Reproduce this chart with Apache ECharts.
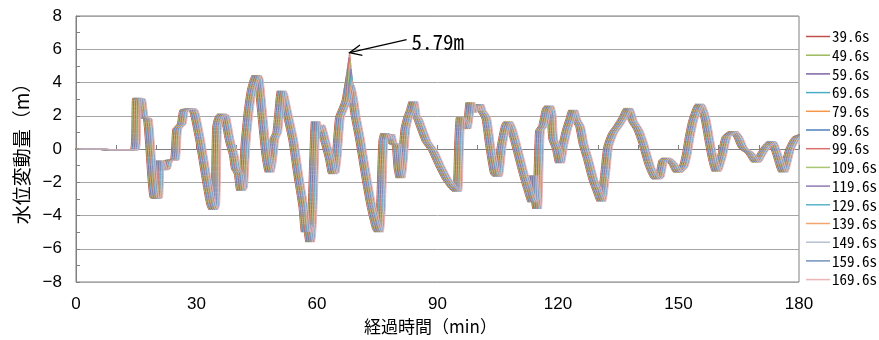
<!DOCTYPE html>
<html>
<head>
<meta charset="utf-8">
<script src="https://cdn.jsdelivr.net/npm/echarts@6/dist/echarts.min.js"></script>
<style>
  html, body { margin: 0; padding: 0; background: #fff; }
  #chart { width: 879px; height: 340px; }
</style>
</head>
<body>
<div id="chart"></div>
<script>
// 凡例（計算ケース）
const runLabels = ['39.6s', '49.6s', '59.6s', '69.6s', '79.6s', '89.6s', '99.6s',
  '109.6s', '119.6s', '129.6s', '139.6s', '149.6s', '159.6s', '169.6s']

// 波形（帯の中心を読み取り） 経過時間(min)
const timeMin = [0, 7.0, 7.3, 14.6, 15.2, 16.2, 16.9, 17.9, 19.6, 20.4, 20.9, 21.6, 22.4, 23.0,
  24.6, 25.2, 26.3, 27.0, 29.0, 29.6, 31.0, 32.5, 33.6, 34.2, 34.7, 35.1, 35.6, 36.3, 37.1,
  38.3, 39.3, 39.8, 40.5, 41.1, 41.6, 42.2, 43.0, 43.8, 45.0, 45.5, 46.4, 47.4, 48.2, 48.8,
  49.4, 50.1, 50.6, 51.2, 51.6, 52.4, 54.1, 55.3, 56.6, 57.2, 57.6, 58.3, 58.8, 59.3, 59.7,
  60.2, 60.8, 62.0, 63.2, 64.0, 64.4, 64.9, 65.7, 66.5, 67.3, 68.2, 69.0, 69.6, 70.7, 72.4,
  73.6, 74.9, 75.4, 75.9, 76.5, 77.0, 77.6, 78.2, 79.0, 79.7, 80.3, 80.8, 81.4, 82.0, 82.8,
  83.3, 84.0, 84.6, 85.2, 85.8, 87.3, 88.9, 90.6, 92.3, 93.9, 94.9, 95.4, 95.8, 96.4, 97.2,
  97.8, 98.2, 98.7, 99.3, 99.8, 100.4, 101.0, 101.6, 102.2, 103.1, 104.3, 105.0, 106.0,
  107.0, 107.6, 108.5, 109.7, 111.4, 112.6, 113.6, 114.0, 114.3, 114.8, 115.5, 116.3, 117.2,
  117.8, 118.4, 118.8, 119.7, 120.5, 121.3, 122.2, 123.0, 123.8, 124.6, 125.5, 126.3, 127.5,
  128.8, 130.0, 130.8, 131.7, 132.5, 133.7, 135.0, 136.3, 137.5, 138.7, 140.0, 141.2, 142.9,
  144.5, 145.3, 146.2, 147.0, 148.7, 149.9, 151.2, 152.0, 152.8, 153.7, 155.3, 156.6, 157.8,
  158.7, 159.5, 160.8, 162.0, 163.7, 164.9, 166.1, 167.8, 169.4, 170.7, 171.9, 173.2, 174.4,
  176.1, 177.8, 179.4, 181.5]

// 水位変動量(m)
const levelM = [0, 0, -0.05, -0.05, 3.05, 3.0, 1.9, 1.8, -2.95, -2.95, -0.7, -1.25, -1.2, -0.7,
  -0.65, 1.2, 1.5, 2.35, 2.4, 2.1, 0.4, -1.8, -3.3, -3.65, -3.3, 1.3, 1.85, 2.1, 2.0,
  0.5, -0.4, -1.2, -1.5, -2.5, -2.3, 0.3, 2.3, 3.6, 4.45, 4.2, 2.0, -0.4, -1.4, -0.7,
  0.6, 1.0, 2.2, 3.5, 3.3, 2.4, 0.5, -1.5, -3.5, -5.0, -4.6, -5.6, -4.2, -0.5, 1.65,
  1.1, 1.45, 0.5, -0.6, -1.5, -1.4, -0.5, 1.9, 2.4, 2.9, 4.0, 3.0, 2.0, 0.6, -1.9,
  -3.5, -4.8, -5.0, -3.6, 0.5, 0.95, 0.6, 0.9, 0.3, 0.3, -1.2, -1.75, -0.6, 1.2, 2.0,
  2.3, 2.85, 2.0, 1.8, 1.4, 0.45, -0.1, -1.0, -1.8, -2.35, -2.55, 0.5, 1.9, 1.7, 1.2,
  2.0, 2.8, 2.2, 2.6, 2.3, 2.7, 2.3, 2.1, 1.8, 0.2, -1.5, -1.65, 0.2,
  1.4, 1.65, 1.2, 0.15, -1.45, -2.45, -3.2, -1.6, -2.8, -3.6, 1.1, 1.4, 2.4,
  2.6, 2.1, 0.6, 0.0, -0.85, 0.2, 1.15, 1.75, 2.35, 1.75, 1.35, 0.35, -0.65,
  -1.85, -2.65, -3.15, -1.6, 0.15, 0.95, 1.4, 1.9, 2.45, 1.65, 1.15, 0.35, -1.05,
  -1.8, -1.7, -0.7, -0.55, -0.9, -1.4, -1.1, -0.4, 0.75, 1.75, 2.7, 1.95, 0.35,
  -0.75, -1.35, -0.45, 0.75, 1.05, 0.7, 0.05, -0.25, -0.8, -0.3, 0.15, 0.45, -0.2,
  -1.4, 0.0, 0.7, 0.9]

// 68分付近の最大値（ケース毎）
const peakTime = 68.2
const peakLevels = [4.0, 4.3, 4.6, 4.9, 5.2, 5.5, 5.79, 5.3, 4.8, 4.4, 4.1, 3.95, 3.85, 3.8]

const xTicks = [0, 30, 60, 90, 120, 150, 180]
const yTicks = [-8, -6, -4, -2, 0, 2, 4, 6, 8]

const lineColors = ['#C0504D', '#9BBB59', '#8064A2', '#4BACC6', '#F79646', '#4F81BD', '#D9706D',
  '#A9C672', '#9079B5', '#5AB3CB', '#F2A66E', '#B4C0D2', '#7393BE', '#ECB4B5']

const monoFont = "'Noto Sans Mono CJK JP', 'Liberation Mono', monospace"
const jpFont = "'Noto Sans CJK JP', sans-serif"
const tickFont = "'Liberation Sans', Arial, sans-serif"

const chart = echarts.init(document.getElementById('chart'))

// ケース毎の時間ずれ（凡例の秒数、帯の中心基準）
const secs = runLabels.map(s => parseFloat(s))
const midSec = (secs[0] + secs[secs.length - 1]) / 2
const peakIdx = timeMin.indexOf(peakTime)

const series = runLabels.map((name, i) => {
  const lag = (secs[i] - midSec) / 60
  return {
    name: name,
    type: 'line',
    symbol: 'none',
    smooth: 0.2,
    clip: true,
    lineStyle: { width: 1, color: lineColors[i] },
    itemStyle: { color: lineColors[i] },
    data: timeMin.map((t, k) => [t + lag, k === peakIdx ? peakLevels[i] : levelM[k]])
  }
})

const fmtNum = v => (v < 0 ? '\u2212' + Math.abs(v) : String(v))

chart.setOption({
  animation: false,
  backgroundColor: '#fff',
  grid: {
    left: 76, right: 80, top: 16, bottom: 58,
    show: true, borderColor: '#808080', borderWidth: 1
  },
  legend: {
    data: runLabels,
    orient: 'vertical',
    left: 806,
    top: 29,
    icon: 'path://M0,0H48V3H0Z',
    itemWidth: 24,
    itemHeight: 14,
    itemGap: 3.7,
    padding: 0,
    textStyle: { fontFamily: monoFont, fontSize: 15, color: '#000', padding: [0, 0, 0, -3] }
  },
  xAxis: {
    type: 'value',
    min: xTicks[0],
    max: xTicks[xTicks.length - 1],
    interval: 30,
    name: '経過時間（min）',
    nameLocation: 'middle',
    nameGap: 35,
    nameTextStyle: { fontFamily: jpFont, fontSize: 17, color: '#000', padding: [0, 14, 0, 0] },
    axisLine: { lineStyle: { color: '#808080' } },
    axisTick: { inside: true, length: 4, lineStyle: { color: '#808080' } },
    minorTick: { show: true, splitNumber: 3, length: 4, lineStyle: { color: '#808080' } },
    splitLine: { show: false },
    axisLabel: { fontFamily: tickFont, fontSize: 17, color: '#000', margin: 14, formatter: fmtNum }
  },
  yAxis: {
    type: 'value',
    min: yTicks[0],
    max: yTicks[yTicks.length - 1],
    interval: 2,
    name: '水位変動量（m）',
    nameLocation: 'middle',
    nameGap: 34,
    nameTextStyle: { fontFamily: jpFont, fontSize: 19, color: '#000' },
    axisLine: { show: true, lineStyle: { color: '#808080' } },
    axisTick: { show: true, inside: true, length: 4, lineStyle: { color: '#808080' } },
    minorTick: { show: true, splitNumber: 2, length: 4, lineStyle: { color: '#808080' } },
    splitLine: { show: true, lineStyle: { color: '#a6a6a6', width: 1 } },
    axisLabel: { fontFamily: tickFont, fontSize: 17, color: '#000', margin: 14, formatter: fmtNum }
  },
  series: series
})

// 最大値の注記（矢印）
const maxI = peakLevels.indexOf(Math.max(...peakLevels))
const maxPt = series[maxI].data[peakIdx]
const tip = chart.convertToPixel({ gridIndex: 0 }, maxPt)
const tail = [tip[0] + 57, tip[1] - 13]
const ang = Math.atan2(tail[1] - tip[1], tail[0] - tip[0])
const headLen = 13
const arm = d => [tip[0] + headLen * Math.cos(ang + d), tip[1] + headLen * Math.sin(ang + d)]

chart.setOption({
  graphic: [
    {
      type: 'line', z: 100,
      shape: { x1: tip[0], y1: tip[1], x2: tail[0], y2: tail[1] },
      style: { stroke: '#000', lineWidth: 1.3 }
    },
    {
      type: 'polyline', z: 100,
      shape: { points: [arm(0.42), tip, arm(-0.42)] },
      style: { stroke: '#000', lineWidth: 1.3, fill: null }
    },
    {
      type: 'text', z: 100,
      x: tail[0] + 5, y: tail[1] + 2,
      style: {
        text: maxPt[1].toFixed(2) + 'm',
        font: '21px ' + monoFont,
        fill: '#000',
        verticalAlign: 'middle'
      }
    }
  ]
})

window.addEventListener('resize', () => {
  chart.resize()
})
</script>
</body>
</html>
